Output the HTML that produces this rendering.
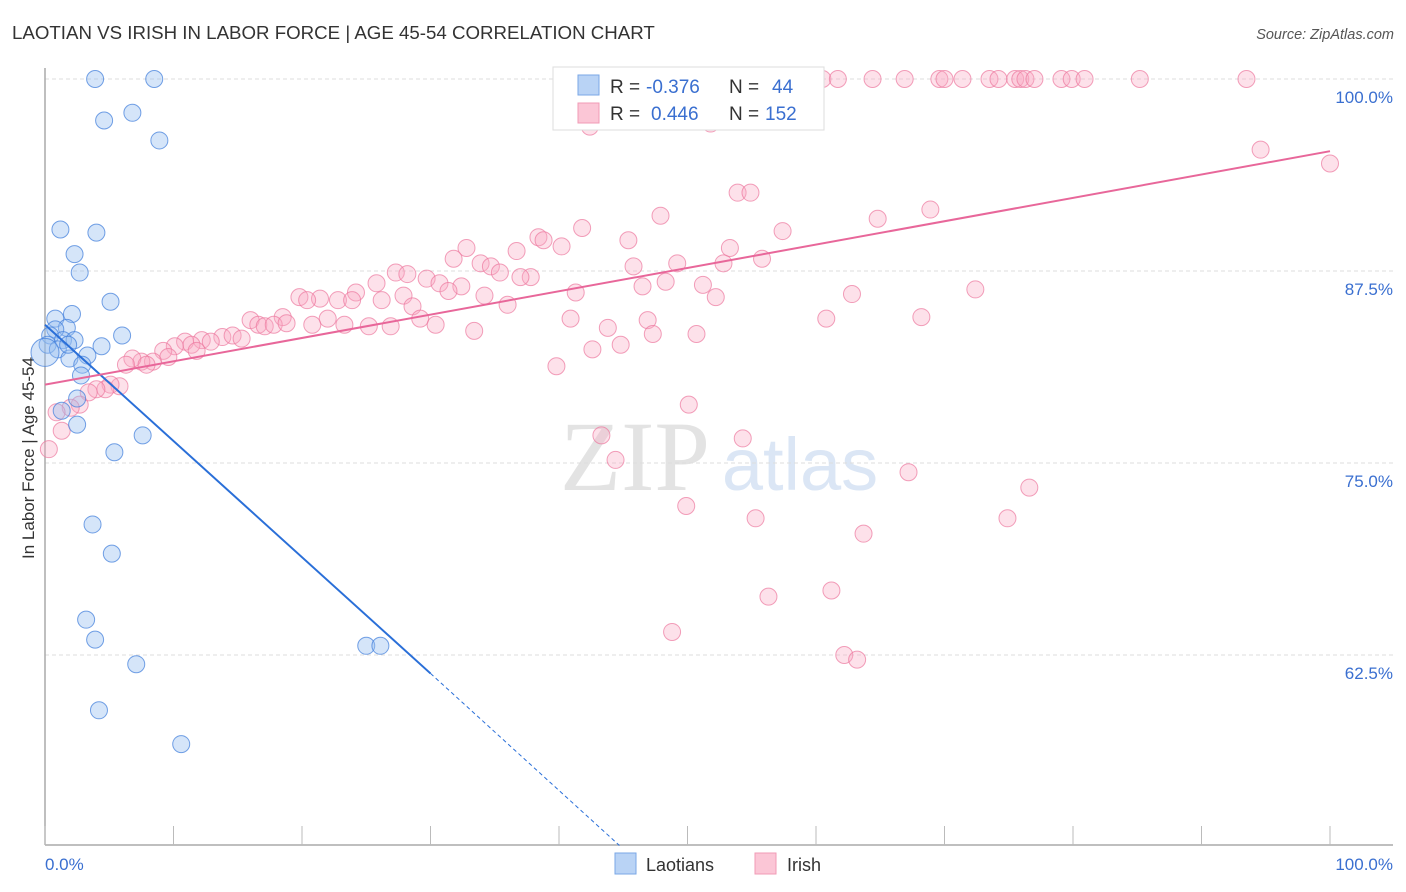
<!DOCTYPE html>
<html><head><meta charset="utf-8"><style>
body{margin:0;background:#fff;font-family:"Liberation Sans",sans-serif;}
#wrap{position:relative;width:1406px;height:892px;overflow:hidden;}
</style></head><body>
<div id="wrap">
<svg id="chart" width="1406" height="892">
<text x="12" y="39" font-size="18.7" fill="#333">LAOTIAN VS IRISH IN LABOR FORCE | AGE 45-54 CORRELATION CHART</text>
<text x="1394" y="39" font-size="14.5" fill="#555" font-style="italic" text-anchor="end">Source: ZipAtlas.com</text>
<text transform="translate(34,458) rotate(-90)" font-size="17" fill="#333" text-anchor="middle">In Labor Force | Age 45-54</text>
<g>
<text x="635" y="490" font-size="100" fill="#e3e3e3" font-family="Liberation Serif,serif" text-anchor="middle">ZIP</text>
<text x="800" y="490" font-size="74" fill="#dbe6f5" text-anchor="middle">atlas</text>
</g>
<g id="grid"></g>
<g id="axes"></g>
<g id="pink"></g>
<g id="blue"></g>
<g id="trends"></g>
<g>
<rect x="553" y="67" width="271" height="63" fill="#fff" stroke="#ddd"/>
<rect x="578" y="75" width="21" height="20" fill="#b9d3f5" stroke="#7aa7e6"/>
<rect x="578" y="103" width="21" height="20" fill="#fbc6d6" stroke="#f09bb6"/>
<text x="610" y="93" font-size="19" fill="#333">R = </text><text x="646" y="93" font-size="19" fill="#3a6fd0">-0.376</text>
<text x="729" y="93" font-size="19" fill="#333">N = </text><text x="772" y="93" font-size="19" fill="#3a6fd0">44</text>
<text x="610" y="120" font-size="19" fill="#333">R = </text><text x="651" y="120" font-size="19" fill="#3a6fd0">0.446</text>
<text x="729" y="120" font-size="19" fill="#333">N = </text><text x="765" y="120" font-size="19" fill="#3a6fd0">152</text>
</g>
<g>
<rect x="615" y="853" width="21" height="21" fill="#b9d3f5" stroke="#7aa7e6"/>
<text x="646" y="871" font-size="18" fill="#333">Laotians</text>
<rect x="755" y="853" width="21" height="21" fill="#fbc6d6" stroke="#f09bb6"/>
<text x="787" y="871" font-size="18" fill="#333">Irish</text>
</g>
</svg>
</div>
<script>
const xTicks=[0,10,20,30,40,50,60,70,80,90,100];
const yTicks=[62.5,75,87.5,100];
const yTickLabels=["62.5%","75.0%","87.5%","100.0%"];
const blueX=[3.9,8.5,4.6,6.8,8.9,1.2,4.0,2.3,2.7,5.1,2.1,0.8,6.0,1.7,0.8,0.4,1.4,2.3,0.2,1.0,4.4,3.3,1.9,2.9,0,2.8,2.5,1.3,2.5,7.6,5.4,3.7,5.2,3.2,3.9,7.1,25.0,26.1,4.2,10.6,1.8];
const blueY=[100,100,97.3,97.8,96.0,90.2,90.0,88.6,87.4,85.5,84.7,84.4,83.3,83.8,83.7,83.3,83.0,83.0,82.7,82.4,82.6,82.0,81.8,81.4,82.2,80.7,79.2,78.4,77.5,76.8,75.7,71.0,69.1,64.8,63.5,61.9,63.1,63.1,58.9,56.7,82.7];
const pinkX=[58,59.4,60.5,61.7,64.4,66.9,69.6,70,71.4,73.5,74.2,75.5,75.9,76.3,77.0,79.1,79.9,80.9,85.2,93.5,59.6,42.4,51.8,94.6,100,53.9,54.9,47.9,64.8,68.9,57.4,41.8,38.4,40.2,38.8,45.4,32.8,36.7,53.3,31.8,33.9,34.7,45.8,49.2,52.8,55.8,35.4,27.3,28.2,29.7,30.7,32.4,31.4,25.8,24.2,26.2,27.9,34.2,36.0,37.8,37.0,41.3,46.5,48.3,51.2,52.2,62.8,72.4,19.8,21.4,20.4,22.8,23.9,28.6,22.0,29.2,30.4,23.3,25.2,26.9,33.4,40.9,43.8,46.9,47.3,50.7,60.8,68.2,16.0,18.5,16.6,17.1,17.8,18.8,20.8,13.8,14.6,15.3,12.2,12.9,10.9,11.4,10.1,11.8,9.2,9.6,8.4,7.5,6.8,6.3,7.9,42.6,44.8,39.8,5.8,5.1,4.7,4.0,3.4,2.7,2.0,0.9,1.3,0.3,50.1,43.3,54.3,44.4,67.2,76.6,49.9,55.3,74.9,63.7,61.2,56.3,48.8,62.2,63.2];
const pinkY=[100,100,100,100,100,100,100,100,100,100,100,100,100,100,100,100,100,100,100,100,98.8,96.9,97.1,95.4,94.5,92.6,92.6,91.1,90.9,91.5,90.1,90.3,89.7,89.1,89.5,89.5,89.0,88.8,89.0,88.3,88.0,87.8,87.8,88.0,88.0,88.3,87.4,87.4,87.3,87.0,86.7,86.5,86.2,86.7,86.1,85.6,85.9,85.9,85.3,87.1,87.1,86.1,86.5,86.8,86.6,85.8,86.0,86.3,85.8,85.7,85.6,85.6,85.6,85.2,84.4,84.4,84.0,84.0,83.9,83.9,83.6,84.4,83.8,84.3,83.4,83.4,84.4,84.5,84.3,84.5,84.0,83.9,84.0,84.1,84.0,83.2,83.3,83.1,83.0,82.9,82.9,82.7,82.6,82.3,82.3,81.9,81.6,81.6,81.8,81.4,81.4,82.4,82.7,81.3,80.0,80.1,79.8,79.8,79.6,78.8,78.6,78.3,77.1,75.9,78.8,76.8,76.6,75.2,74.4,73.4,72.2,71.4,71.4,70.4,66.7,66.3,64.0,62.5,62.2];
const blueTrend=[[0,84.0],[30,61.3],[44.7,50.1]];
const pinkTrend=[[0,80.1],[100,95.3]];
const NS="http://www.w3.org/2000/svg";
const sx=v=>45+v*12.85;
const sy=v=>79+(100-v)*15.36;
function mk(tag,attrs,parent){const e=document.createElementNS(NS,tag);for(const k in attrs)e.setAttribute(k,attrs[k]);parent.appendChild(e);return e;}
const grid=document.getElementById('grid'),axes=document.getElementById('axes');
yTicks.forEach((t,i)=>{
 const l=mk('line',{x1:45,x2:1393,y1:sy(t),y2:sy(t),stroke:'#ddd','stroke-dasharray':'4,3'},grid);
 
 
 const tx=mk('text',{x:1393,y:sy(t)+24,'font-size':17,fill:'#3a6fd0','text-anchor':'end'},axes);
 tx.textContent=yTickLabels[i];
 
 
});
const ax=mk('line',{x1:45,x2:1393,y1:845,y2:845,stroke:'#aaa','stroke-width':1.5},axes);


const ay=mk('line',{x1:45,x2:45,y1:68,y2:845,stroke:'#aaa','stroke-width':1.5},axes);


xTicks.forEach(t=>{
 const l=mk('line',{x1:sx(t),x2:sx(t),y1:826,y2:845,stroke:'#bbb'},axes);
 
 
});
const x0=mk('text',{x:45,y:870,'font-size':17,fill:'#3a6fd0'},axes);x0.textContent='0.0%';


const x1=mk('text',{x:1393,y:870,'font-size':17,fill:'#3a6fd0','text-anchor':'end'},axes);x1.textContent='100.0%';


const pg=document.getElementById('pink');
pinkX.forEach((x,i)=>{
 const c=mk('circle',{cx:sx(x),cy:sy(pinkY[i]),r:8.5,fill:'rgba(248,170,195,0.35)',stroke:'rgba(236,120,158,0.7)','stroke-width':1},pg);
 
 
});
const bg=document.getElementById('blue');
blueX.forEach((x,i)=>{
 const c=mk('circle',{cx:sx(x),cy:sy(blueY[i]),r:(i==24?14:8.5),fill:'rgba(150,190,240,0.4)',stroke:'rgba(70,130,220,0.75)','stroke-width':1},bg);
 
 
});
const tg=document.getElementById('trends');
const b1=mk('line',{x1:sx(blueTrend[0][0]),y1:sy(blueTrend[0][1]),x2:sx(blueTrend[1][0]),y2:sy(blueTrend[1][1]),stroke:'#2a6fd8','stroke-width':2},tg);


const b2=mk('line',{x1:sx(blueTrend[1][0]),y1:sy(blueTrend[1][1]),x2:sx(blueTrend[2][0]),y2:sy(blueTrend[2][1]),stroke:'#2a6fd8','stroke-width':1,'stroke-dasharray':'4,3'},tg);


const p1=mk('line',{x1:sx(pinkTrend[0][0]),y1:sy(pinkTrend[0][1]),x2:sx(pinkTrend[1][0]),y2:sy(pinkTrend[1][1]),stroke:'#e8679a','stroke-width':2},tg);


</script>
</body></html>
